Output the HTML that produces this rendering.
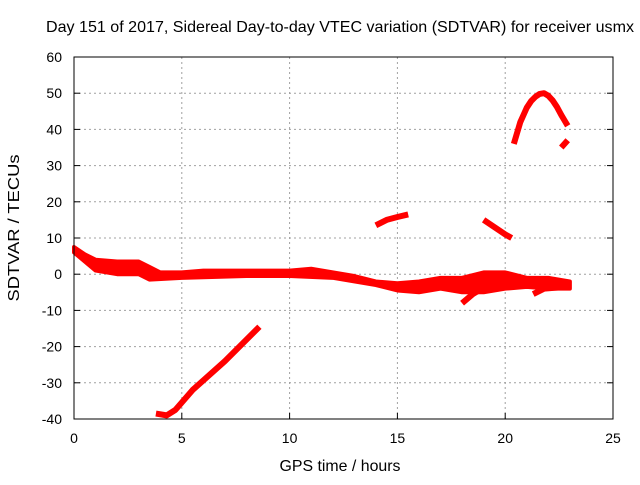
<!DOCTYPE html>
<html><head><meta charset="utf-8"><style>
body{margin:0;background:#fff}
svg{font-family:"Liberation Sans",sans-serif;font-size:14px}
.big{font-size:16px}
</style></head><body>
<svg id="chart" width="640" height="480">
<text class="big" x="340" y="32" text-anchor="middle" textLength="588" lengthAdjust="spacingAndGlyphs">Day 151 of 2017, Sidereal Day-to-day VTEC variation (SDTVAR) for receiver usmx</text>
<text class="big" x="340" y="471" text-anchor="middle" textLength="121" lengthAdjust="spacingAndGlyphs">GPS time / hours</text>
<text class="big" transform="translate(19,228) rotate(-90)" text-anchor="middle" textLength="147" lengthAdjust="spacingAndGlyphs">SDTVAR / TECUs</text>
<g id="grid"></g><g id="series"></g>
<rect x="74" y="57" width="539" height="362" fill="none" stroke="#000" stroke-width="1"/>
</svg>
<script>
const xTicks=[0,5,10,15,20,25];
const yTicks=[-40,-30,-20,-10,0,10,20,30,40,50,60];
const bandUpper=[[0,7.5],[0.5,5.5],[1,4],[2,3.5],[3,3.5],[3.5,2],[4,0.5],[5,0.5],[6,1],[8,1],[10,1],[11,1.5],[12,0.5],[13,-0.5],[14,-2],[15,-2.5],[16,-2],[17,-1],[18,-1],[19,0.5],[20,0.5],[21,-1],[22,-1],[23,-2]];
const bandLower=[[0,6],[1,1],[2,0],[3,0],[3.5,-1.5],[5,-1],[8,-0.5],[10,-0.5],[12,-1],[14,-3],[15,-4.5],[16,-5],[17,-4],[18,-5],[19,-5],[20,-4],[21,-3.5],[22,-4],[23,-4]];
const dip=[[18,-8],[18.5,-5.5],[19.2,-3]];
const dip2=[[21.3,-5.5],[21.8,-4],[22.8,-3.5]];
const diagonal=[[3.8,-38.5],[4.3,-39],[4.7,-37.5],[5.5,-32],[7,-24],[8.6,-14.5]];
const seg15=[[14,13.5],[14.5,15],[15,15.8],[15.5,16.5]];
const seg20=[[19,15],[19.5,13],[20,11],[20.3,10]];
const arc=[[20.4,36],[20.55,39],[20.7,42],[20.85,44],[21,46],[21.2,47.8],[21.4,49],[21.6,49.8],[21.8,50],[22,49.3],[22.2,48],[22.4,46.2],[22.6,44],[22.75,42.5],[22.9,41]];
const tail=[[22.6,35],[22.9,37]];
const X=v=>74+v*539/25, Y=v=>274.2-v*3.62;
const NS="http://www.w3.org/2000/svg";
const g=document.getElementById('grid'), s=document.getElementById('series');
function mk(p,tag,a){const e=document.createElementNS(NS,tag);for(const k in a)e.setAttribute(k,a[k]);p.appendChild(e);return e;}
xTicks.forEach(t=>{
 const l=mk(g,'line',{x1:X(t),x2:X(t),y1:57,y2:419,stroke:'#a0a0a0','stroke-dasharray':'2,3'});
 
 
 mk(g,'line',{x1:X(t),x2:X(t),y1:419,y2:413,stroke:'#000'});
 const tx=mk(g,'text',{x:X(t),y:443,'text-anchor':'middle'});tx.textContent=t;
 
 
});
yTicks.forEach(t=>{
 const l=mk(g,'line',{x1:74,x2:613,y1:Y(t),y2:Y(t),stroke:'#a0a0a0','stroke-dasharray':'2,3'});
 
 
 mk(g,'line',{x1:74,x2:80,y1:Y(t),y2:Y(t),stroke:'#000'});
 mk(g,'line',{x1:607,x2:613,y1:Y(t),y2:Y(t),stroke:'#000'});
 const tx=mk(g,'text',{x:62,y:Y(t)+5,'text-anchor':'end'});tx.textContent=t;
 
 
});
const pts=a=>a.map(p=>X(p[0])+','+Y(p[1])).join(' ');
const band=mk(s,'polygon',{points:pts(bandUpper)+' '+pts(bandLower.slice().reverse()),fill:'#f00',stroke:'#f00','stroke-width':4,'stroke-linejoin':'round'});


[[dip,'sdtvar-dip'],[dip2,'sdtvar-dip-2'],[diagonal,'sdtvar-diagonal'],[seg15,'sdtvar-segment-15h'],[seg20,'sdtvar-segment-20h'],[arc,'sdtvar-arc'],[tail,'sdtvar-tail']].forEach(([d,n])=>{
 const pl=mk(s,'polyline',{points:pts(d),fill:'none',stroke:'#f00','stroke-width':6,'stroke-linejoin':'round'});
 
 
});
</script>
</body></html>
